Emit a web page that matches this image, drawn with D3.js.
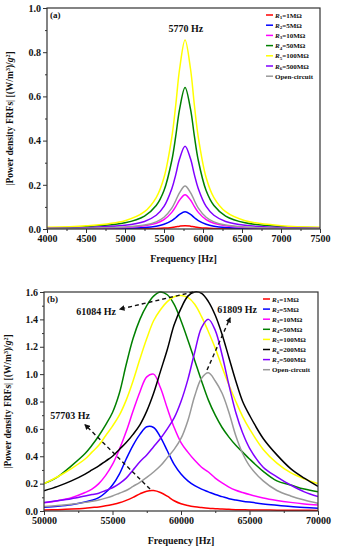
<!DOCTYPE html>
<html>
<head>
<meta charset="utf-8">
<script src="https://cdn.jsdelivr.net/npm/d3@7/dist/d3.min.js"></script>
<style>
    body { margin: 0; background: #fff; }
    svg { display: block; }
    text { font-family: "Liberation Serif", "Times New Roman", serif; font-weight: bold; fill: #111; }
</style>
</head>
<body>
<svg id="chart" width="338" height="550"></svg>
<script>
// ---- panel (a) data : frequency [Hz] and |FRF| values
var freqA = [4000, 4500, 5000, 5250, 5400, 5500, 5600, 5650, 5700, 5770, 5840, 5890, 5940, 6040, 6140, 6290, 6540, 7000, 7500];
var aR1 = [0.0001, 0.0002, 0.0007, 0.0014, 0.0025, 0.0041, 0.0073, 0.0098, 0.0127, 0.015, 0.0127, 0.0098, 0.0073, 0.0041, 0.0025, 0.0014, 0.0007, 0.0003, 0.0001];
var aR2 = [0.0007, 0.0013, 0.0034, 0.0071, 0.0129, 0.0212, 0.0378, 0.051, 0.066, 0.078, 0.066, 0.051, 0.0378, 0.0212, 0.0129, 0.0071, 0.0034, 0.0014, 0.0007];
var aR3 = [0.0013, 0.0026, 0.0068, 0.0142, 0.0257, 0.0422, 0.0752, 0.101, 0.131, 0.155, 0.131, 0.101, 0.0752, 0.0422, 0.0257, 0.0142, 0.0068, 0.0027, 0.0014];
var aR4 = [0.0055, 0.0106, 0.0282, 0.0586, 0.106, 0.174, 0.310, 0.419, 0.542, 0.64, 0.542, 0.419, 0.310, 0.174, 0.106, 0.0586, 0.0282, 0.0113, 0.0058];
var aR5 = [0.0074, 0.0142, 0.0376, 0.0782, 0.142, 0.233, 0.415, 0.559, 0.724, 0.855, 0.724, 0.559, 0.415, 0.233, 0.142, 0.0782, 0.0376, 0.0151, 0.0077];
var aR6 = [0.0032, 0.0062, 0.0165, 0.0343, 0.0623, 0.102, 0.182, 0.245, 0.318, 0.375, 0.318, 0.245, 0.182, 0.102, 0.0623, 0.0343, 0.0165, 0.0066, 0.0034];
var aOpen = [0.0017, 0.0032, 0.0086, 0.0178, 0.0324, 0.053, 0.0946, 0.128, 0.165, 0.195, 0.165, 0.128, 0.0946, 0.053, 0.0324, 0.0178, 0.0086, 0.0035, 0.0018];
var labelsA = ["1MΩ", "5MΩ", "10MΩ", "50MΩ", "100MΩ", "500MΩ", "Open-circuit"];

// ---- panel (b) data
var freqB = [50000, 51000, 52000, 53000, 53500, 54000, 54500, 55000, 55500, 56000, 56500, 57000, 57500, 58000, 58500, 59000, 59500, 60000,
             60500, 61000, 61500, 62000, 62500, 63000, 63500, 64000, 64500, 65000, 66000, 67000, 68000, 69000, 70000];
var bR1 = [0.007, 0.010, 0.014, 0.020, 0.025, 0.030, 0.038, 0.048, 0.060, 0.078, 0.100, 0.125, 0.145, 0.149, 0.135, 0.108, 0.075, 0.053,
           0.040, 0.031, 0.025, 0.020, 0.017, 0.014, 0.012, 0.010, 0.009, 0.008, 0.007, 0.006, 0.005, 0.005, 0.004];
var bR2 = [0.028, 0.035, 0.046, 0.065, 0.078, 0.098, 0.135, 0.19, 0.27, 0.38, 0.48, 0.56, 0.615, 0.61, 0.54, 0.44, 0.34, 0.27,
           0.22, 0.185, 0.16, 0.14, 0.12, 0.105, 0.09, 0.08, 0.072, 0.065, 0.052, 0.042, 0.033, 0.026, 0.02];
var bR3 = [0.06, 0.075, 0.097, 0.135, 0.16, 0.20, 0.26, 0.34, 0.45, 0.58, 0.73, 0.87, 0.98, 1.00, 0.90, 0.75, 0.61, 0.50,
           0.43, 0.37, 0.32, 0.285, 0.24, 0.205, 0.175, 0.152, 0.135, 0.12, 0.095, 0.077, 0.063, 0.052, 0.044];
var bR4 = [0.20, 0.25, 0.33, 0.42, 0.48, 0.55, 0.63, 0.72, 0.86, 1.07, 1.26, 1.40, 1.50, 1.57, 1.60, 1.58, 1.51, 1.39,
           1.25, 1.10, 0.95, 0.81, 0.70, 0.61, 0.54, 0.48, 0.43, 0.38, 0.29, 0.22, 0.19, 0.16, 0.14];
var bR5 = [0.20, 0.25, 0.31, 0.38, 0.43, 0.48, 0.55, 0.62, 0.70, 0.81, 0.95, 1.11, 1.26, 1.39, 1.47, 1.53, 1.565, 1.575,
           1.56, 1.51, 1.42, 1.31, 1.19, 1.05, 0.92, 0.80, 0.69, 0.60, 0.45, 0.35, 0.28, 0.235, 0.20];
var bR6 = [0.148, 0.18, 0.22, 0.27, 0.30, 0.33, 0.365, 0.40, 0.45, 0.50, 0.56, 0.63, 0.73, 0.86, 1.02, 1.18, 1.36, 1.48,
           1.57, 1.60, 1.59, 1.53, 1.43, 1.29, 1.12, 0.95, 0.80, 0.70, 0.53, 0.41, 0.31, 0.24, 0.18];
var bR7 = [0.062, 0.075, 0.09, 0.11, 0.12, 0.13, 0.15, 0.17, 0.20, 0.24, 0.30, 0.36, 0.41, 0.47, 0.53, 0.60, 0.68, 0.80,
           0.96, 1.16, 1.34, 1.40, 1.32, 1.14, 0.92, 0.72, 0.57, 0.46, 0.32, 0.25, 0.19, 0.14, 0.105];
var bOpen = [0.033, 0.04, 0.05, 0.063, 0.071, 0.08, 0.094, 0.11, 0.13, 0.15, 0.18, 0.21, 0.245, 0.285, 0.33, 0.39, 0.45, 0.53,
             0.66, 0.84, 0.97, 1.01, 0.95, 0.86, 0.72, 0.55, 0.42, 0.33, 0.22, 0.15, 0.11, 0.08, 0.056];
var labelsB = ["1MΩ", "5MΩ", "10MΩ", "50MΩ", "100MΩ", "200MΩ", "500MΩ", "Open-circuit"];

var colorsA = ["#ff0000", "#0000ff", "#ff00ff", "#008000", "#ffff00", "#8000ff", "#999999"];
var colorsB = ["#ff0000", "#0000ff", "#ff00ff", "#008000", "#ffff00", "#000000", "#8000ff", "#999999"];

var svg = d3.select("#chart");

// arrow marker for the dashed call-outs
svg.append("defs").append("marker")
    .attr("id", "arrow")
    .attr("viewBox", "0 0 10 10")
    .attr("refX", 8).attr("refY", 5)
    .attr("markerWidth", 4).attr("markerHeight", 4)
    .attr("orient", "auto")
    .append("path").attr("d", "M0,0 L10,5 L0,10 z").attr("fill", "#111");

function drawPanel(p) {
    var x = d3.scaleLinear().domain(p.xDomain).range([p.left, p.right]);
    var y = d3.scaleLinear().domain(p.yDomain).range([p.bottom, p.top]);
    var g = svg.append("g");

    g.append("clipPath").attr("id", "clip" + p.tag)
        .append("rect").attr("x", p.left).attr("y", p.top - 1)
        .attr("width", p.right - p.left).attr("height", p.bottom - p.top + 1);

    // curves
    var line = d3.line()
        .x(function (d) { return x(d[0]); })
        .y(function (d) { return y(d[1]); })
        .curve(d3.curveCatmullRom.alpha(0.5));

    p.series.forEach(function (s, i) {
        g.append("path")
            .attr("clip-path", "url(#clip" + p.tag + ")")
            .attr("d", line(p.freqs.map(function (f, j) { return [f, s[j]]; })))
            .attr("fill", "none")
            .attr("stroke", p.colors[i])
            .attr("stroke-width", 1.5);
    });

    // minor ticks
    g.append("g").attr("transform", "translate(0," + p.bottom + ")")
        .call(d3.axisBottom(x).tickValues(p.xMinor).tickSize(2).tickFormat(""))
        .call(function (a) { a.select(".domain").remove(); });
    g.append("g").attr("transform", "translate(" + p.left + ",0)")
        .call(d3.axisLeft(y).tickValues(p.yMinor).tickSize(2).tickFormat(""))
        .call(function (a) { a.select(".domain").remove(); });

    // major ticks + labels
    var xa = g.append("g").attr("transform", "translate(0," + p.bottom + ")")
        .call(d3.axisBottom(x).tickValues(p.xTicks).tickSize(4).tickPadding(2).tickFormat(d3.format("d")));
    var ya = g.append("g").attr("transform", "translate(" + p.left + ",0)")
        .call(d3.axisLeft(y).tickValues(p.yTicks).tickSize(4).tickPadding(2).tickFormat(d3.format(".1f")));
    [xa, ya].forEach(function (a) {
        a.select(".domain").remove();
        a.selectAll("text").style("font-family", "Liberation Serif").style("font-weight", "bold")
            .style("font-size", "10px").attr("fill", "#111");
    });
    g.selectAll(".tick line").attr("stroke", "#333");

    // frame
    g.append("rect").attr("x", p.left).attr("y", p.top)
        .attr("width", p.right - p.left).attr("height", p.bottom - p.top)
        .attr("fill", "none").attr("stroke", "#333").attr("stroke-width", 1.2);

    // axis titles
    g.append("text").attr("x", (p.left + p.right) / 2).attr("y", p.bottom + 33)
        .attr("text-anchor", "middle").style("font-size", "10px").text("Frequency [Hz]");
    var yt = g.append("text")
        .attr("transform", "translate(" + p.yTitleX + "," + (p.top + p.bottom) / 2 + ") rotate(-90)")
        .attr("text-anchor", "middle").style("font-size", "9.5px");
    yt.append("tspan").text("|Power density FRFs| [(W/m");
    yt.append("tspan").attr("dy", -3).style("font-size", "6px").text("3");
    yt.append("tspan").attr("dy", 3).text(")/");
    yt.append("tspan").style("font-style", "italic").text("g");
    yt.append("tspan").attr("dy", -3).style("font-size", "6px").text("2");
    yt.append("tspan").attr("dy", 3).text("]");

    // panel tag
    g.append("text").attr("x", p.left + 3).attr("y", p.top + 10)
        .style("font-size", "9px").text("(" + p.tag + ")");

    // legend
    var lg = g.append("g");
    p.labels.forEach(function (lab, i) {
        var ly = p.legendY + i * p.legendStep;
        lg.append("line").attr("x1", p.legendX).attr("x2", p.legendX + 7)
            .attr("y1", ly).attr("y2", ly)
            .attr("stroke", p.colors[i]).attr("stroke-width", 1.5);
        var t = lg.append("text").attr("x", p.legendX + 9).attr("y", ly + 2.5).style("font-size", "7px");
        if (lab === "Open-circuit") {
            t.text(lab);
        } else {
            t.append("tspan").style("font-style", "italic").text("R");
            t.append("tspan").attr("dy", 1.5).style("font-size", "5px").text(i + 1);
            t.append("tspan").attr("dy", -1.5).text("=" + lab);
        }
    });

    // annotations: label text + dashed arrow, all in data units
    p.notes.forEach(function (n) {
        g.append("text").attr("x", x(n.tx)).attr("y", y(n.ty)).attr("dy", "0.35em")
            .attr("text-anchor", "middle").style("font-size", "10px").text(n.text);
        if (n.from) {
            g.append("line")
                .attr("x1", x(n.from[0])).attr("y1", y(n.from[1]))
                .attr("x2", x(n.to[0])).attr("y2", y(n.to[1]))
                .attr("stroke", "#111").attr("stroke-width", 1.4)
                .attr("stroke-dasharray", "4,3")
                .attr("marker-end", "url(#arrow)");
        }
    });
}

drawPanel({
    tag: "a", left: 47, right: 320, top: 8, bottom: 229, yTitleX: 13,
    xDomain: [4000, 7500], yDomain: [0, 1.0],
    xTicks: d3.range(4000, 7501, 500), xMinor: d3.range(4250, 7500, 500),
    yTicks: [0, 0.2, 0.4, 0.6, 0.8, 1.0], yMinor: [0.1, 0.3, 0.5, 0.7, 0.9],
    freqs: freqA, series: [aR1, aR2, aR3, aR4, aR5, aR6, aOpen],
    colors: colorsA, labels: labelsA, legendX: 266, legendY: 15, legendStep: 10.2,
    notes: [{ text: "5770 Hz", tx: 5780, ty: 0.905 }]
});

drawPanel({
    tag: "b", left: 44, right: 318, top: 292, bottom: 511, yTitleX: 11,
    xDomain: [50000, 70000], yDomain: [0, 1.6],
    xTicks: d3.range(50000, 70001, 5000), xMinor: d3.range(52500, 70000, 5000),
    yTicks: d3.range(0, 1.61, 0.2), yMinor: d3.range(0.1, 1.6, 0.2),
    freqs: freqB, series: [bR1, bR2, bR3, bR4, bR5, bR6, bR7, bOpen],
    colors: colorsB, labels: labelsB, legendX: 263, legendY: 299, legendStep: 10.1,
    notes: [
        { text: "61084 Hz", tx: 53800, ty: 1.46, from: [60900, 1.6], to: [55550, 1.475] },
        { text: "61809 Hz", tx: 64100, ty: 1.475, from: [61900, 1.03], to: [63580, 1.41] },
        { text: "57703 Hz", tx: 51900, ty: 0.70, from: [57740, 0.16], to: [53000, 0.63] }
    ]
});
</script>
</body>
</html>
